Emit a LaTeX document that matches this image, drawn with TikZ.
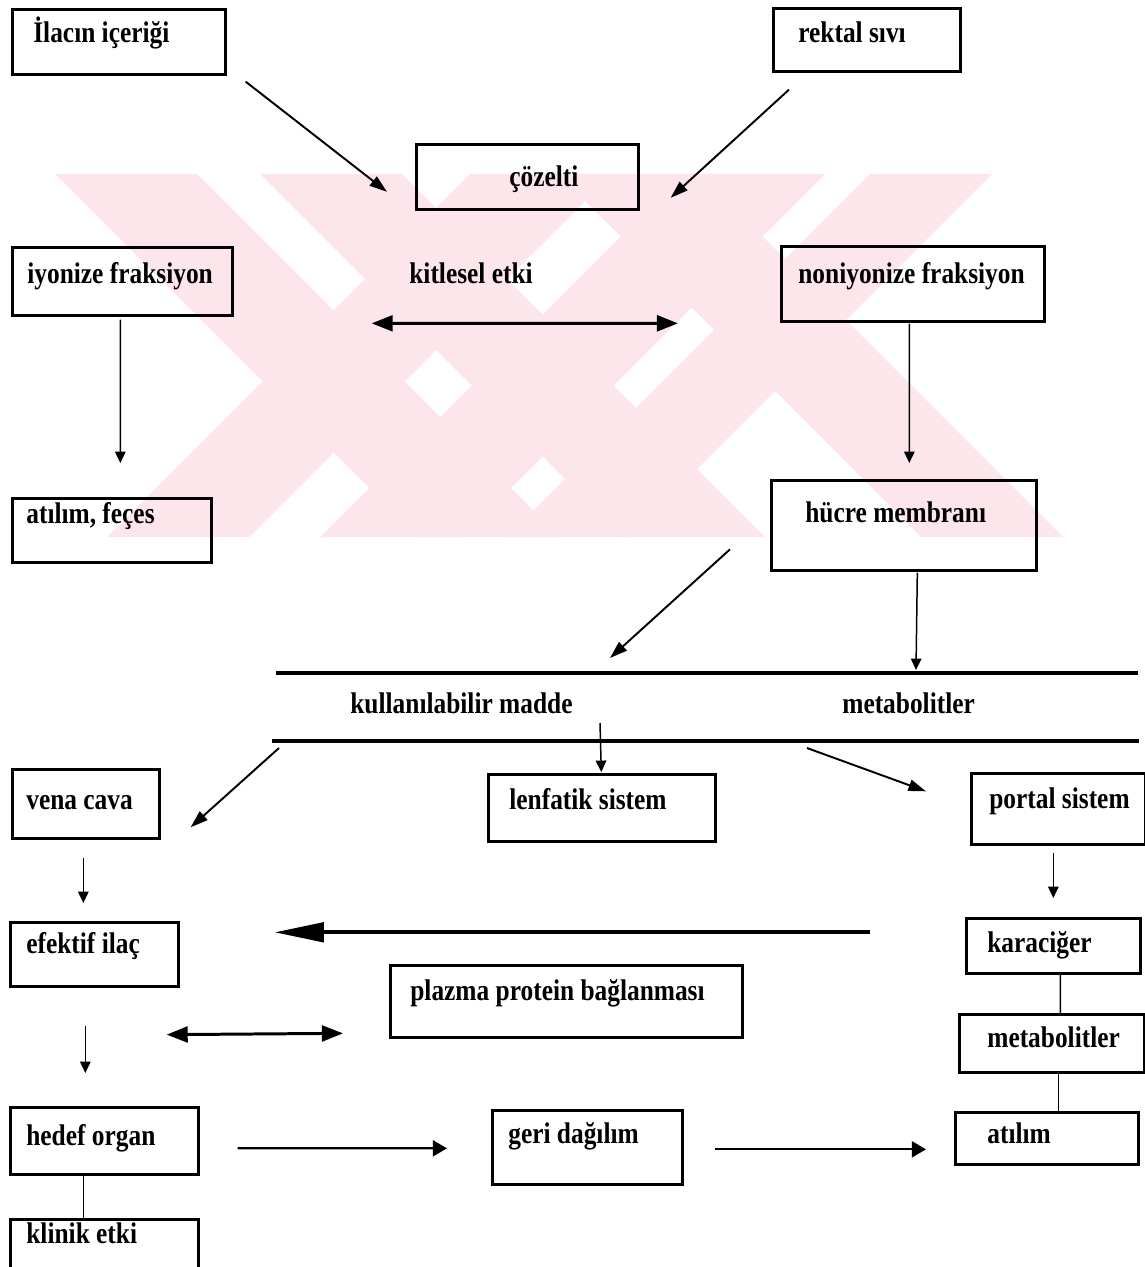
\documentclass[tikz,border=0pt]{standalone}
\usepackage{fontspec}
\setmainfont{Liberation Serif}[FakeStretch=0.85]
\usetikzlibrary{arrows.meta,positioning,calc}
\definecolor{filigran}{RGB}{252,230,235}

\tikzset{
  kutu/.style={draw, line width=1.5pt, inner sep=0pt, anchor=north west},
  wh/.style 2 args={minimum width=#1*0.02cm, minimum height=#2*0.02cm},
  yazi/.style={anchor=base west, inner sep=0pt, font=\fontsize{17}{19}\selectfont\bfseries},
  ince/.style={line width=0.85pt, -{Triangle[length=6.5pt,width=6pt]}},
  capraz/.style={line width=1.1pt, -{Triangle[length=10pt,width=6.5pt]}},
  cift/.style={line width=1.7pt, {Triangle[length=12pt,width=9pt]}-{Triangle[length=12pt,width=9pt]}},
  yatay/.style={line width=1.3pt, -{Triangle[length=8pt,width=9pt]}},
  kalin/.style={line width=2.2pt, -{Triangle[length=28pt,width=11pt]}},
  cizgi/.style={line width=0.85pt},
  ayrac/.style={line width=2.2pt},
  serit/.style={fill=filigran},
}

\begin{document}
\begin{tikzpicture}[x=0.02cm, y=-0.02cm]
\useasboundingbox (0,0) rectangle (1145,1267);
\clip (0,0) rectangle (1145,1267);

% filigran
\begin{scope}
\clip (0,174) rectangle (1145,537);
\foreach \a/\b in {55/197, 260/402, 558/700}
  \fill[serit] (\a,174) -- (\b,174) -- (\b+363,537) -- (\a+363,537) -- cycle;
\foreach \a/\b in {470/612, 683/825, 870/992}
  \fill[serit] (\a,174) -- (\b,174) -- (\b-363,537) -- (\a-363,537) -- cycle;
\end{scope}

\node[kutu, wh={213}{65}] (ilac) at (11,8) {};
\node[yazi] (t-ilac) at (33,43) {İlacın içeriği};
\node[kutu, wh={187}{63}] (rektal) at (772,7) {};
\node[yazi] (t-rektal) at (798,43) {rektal sıvı};
\node[kutu, wh={222}{65}] (coz) at (415,143) {};
\node[yazi] (t-coz) at (509,187) {çözelti};

\node[kutu, wh={220}{68}] (iyon) at (11,246) {};
\node[yazi] (t-iyon) at (27,283) {iyonize fraksiyon};
\node[yazi] (t-kit) at (409,283) {kitlesel etki};
\node[kutu, wh={263}{75}] (noniyon) at (780,245) {};
\node[yazi] (t-noniyon) at (798,283) {noniyonize fraksiyon};

\node[kutu, wh={199}{64}] (atf) at (11,497) {};
\node[yazi] (t-atf) at (26,523) {atılım, feçes};
\node[kutu, wh={265}{90}] (hucre) at (770,479) {};
\node[yazi] (t-hucre) at (805,522) {hücre membranı};

\coordinate (u1) at (276,673);
\coordinate (u2) at (1138,673);
\coordinate (a1) at (272,741);
\coordinate (a2) at (1139,741);
\draw[ayrac] (u1) -- (u2);
\draw[ayrac] (a1) -- (a2);
\node[yazi] (t-kul) at (350,713) {kullanılabilir madde};
\node[yazi] (t-met1) at (842,713) {metabolitler};

\node[kutu, wh={147}{69}] (vena) at (11,768) {};
\node[yazi] (t-vena) at (26,809) {vena cava};
\node[kutu, wh={227}{67}] (lenf) at (487,773) {};
\node[yazi] (t-lenf) at (509,809) {lenfatik sistem};
\node[kutu, wh={174}{71}] (portal) at (970,772) {};
\node[yazi] (t-portal) at (989,808) {portal sistem};

\node[kutu, wh={168}{64}] (efektif) at (9,921) {};
\node[yazi] (t-efektif) at (26,953) {efektif ilaç};
\node[kutu, wh={174}{55}] (kara) at (965,917) {};
\node[yazi] (t-kara) at (987,952) {karaciğer};
\node[kutu, wh={352}{72}] (plazma) at (389,964) {};
\node[yazi] (t-plazma) at (410,1000) {plazma protein bağlanması};
\node[kutu, wh={185}{58}] (meta) at (958,1013) {};
\node[yazi] (t-meta) at (987,1047) {metabolitler};

\node[kutu, wh={188}{67}] (hedef) at (9,1106) {};
\node[yazi] (t-hedef) at (26,1145) {hedef organ};
\node[kutu, wh={190}{74}] (geri) at (491,1109) {};
\node[yazi] (t-geri) at (508,1143) {geri dağılım};
\node[kutu, wh={183}{52}] (atl) at (954,1111) {};
\node[yazi] (t-atl) at (987,1143) {atılım};
\node[kutu, wh={188}{90}] (klinik) at (9,1218) {};
\node[yazi] (t-klinik) at (26,1243) {klinik etki};

\draw[capraz] ([shift={(19,6)}]ilac.south east) -- ([shift={(-28,15)}]coz.west);
\draw[capraz] ([shift={(17,17)}]rektal.south west) -- ([shift={(31,21)}]coz.east);
\draw[cift] ([shift={(138,42)}]iyon.east) -- ([shift={(-102,39.5)}]noniyon.west);
\draw[ince] ([shift={(-2,3)}]iyon.south) -- ([shift={(8.5,-34)}]atf.north);
\draw[ince] ([shift={(-3.5,1)}]noniyon.south) -- ([shift={(5.5,-16)}]hucre.north);
\draw[capraz] ([shift={(-40,24)}]hucre.west) -- ([shift={(334,-15)}]u1);
\draw[ince] ([shift={(13.5,1)}]hucre.south) -- ([shift={(640,-3)}]u1);
\draw[ince] ([shift={(328,-18)}]a1) -- ([shift={(-0.5,-1)}]lenf.north);
\draw[capraz] ([shift={(7,7)}]a1) -- ([shift={(30,23.5)}]vena.east);
\draw[capraz] ([shift={(535,7)}]a1) -- ([shift={(-44,-17.5)}]portal.west);
\draw[ince] ([shift={(-2.5,18)}]vena.south) -- ([shift={(-11,-18)}]efektif.north);
\draw[ince] ([shift={(-5,7)}]portal.south) -- ([shift={(0,-19)}]kara.north);
\draw[kalin] ([shift={(-95,-13.5)}]kara.west) -- ([shift={(95,-22)}]efektif.east);
\draw[cift] ([shift={(-13,47)}]efektif.south east) -- ([shift={(-46,32)}]plazma.west);
\draw[ince] ([shift={(-9,38)}]efektif.south) -- ([shift={(-19,-33)}]hedef.north);
\draw[cizgi] ([shift={(7,0)}]kara.south) -- ([shift={(8.5,0)}]meta.north);
\draw[cizgi] ([shift={(6.5,0)}]meta.south) -- ([shift={(11.5,0)}]atl.north);
\draw[yatay] ([shift={(38,7.5)}]hedef.east) -- ([shift={(-44,1)}]geri.west);
\draw[yatay] ([shift={(31,2)}]geri.east) -- ([shift={(-28,11)}]atl.west);
\draw[cizgi] ([shift={(-21,0)}]hedef.south) -- ([shift={(-21,0)}]klinik.north);
\end{tikzpicture}
\end{document}
